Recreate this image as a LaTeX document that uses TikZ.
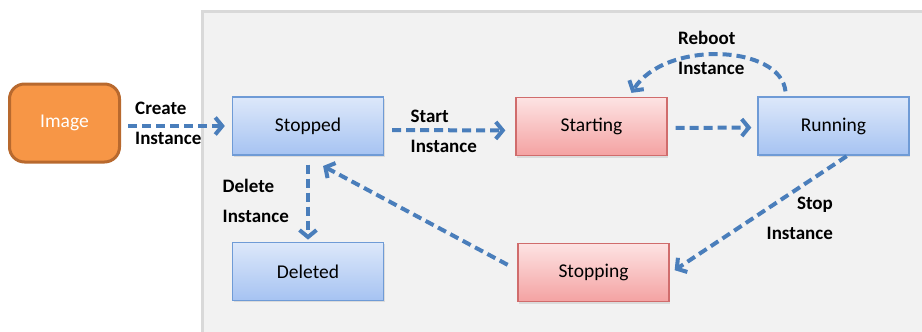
\documentclass[tikz,border=0pt]{standalone}
\usepackage{fontspec}
\setmainfont{Carlito}
\usepackage{xcolor}
\usepackage{tikz}
\usetikzlibrary{positioning}
\usetikzlibrary{arrows.meta,shadows}
\definecolor{arrowblue}{HTML}{4A7EBB}
\definecolor{bluetop}{HTML}{DDE8FA}
\definecolor{bluebot}{HTML}{A6C3F2}
\definecolor{blueline}{HTML}{6F9BD6}
\definecolor{redtop}{HTML}{FDE3E3}
\definecolor{redbot}{HTML}{F4A2A2}
\definecolor{redline}{HTML}{D06C6C}
\definecolor{imgfill}{HTML}{F79646}
\definecolor{imgline}{HTML}{B8692E}
\definecolor{panelfill}{HTML}{F2F2F2}
\definecolor{panelline}{HTML}{D9D9D9}
\tikzset{edge/.style = {-{Straight Barb[length=7pt,width=17pt]}, arrowblue, line width=4pt, dash pattern=on 9pt off 5pt}}

\begin{document}
\begin{tikzpicture}[x=1pt,y=-1pt,font=\fontsize{19.5}{22}\selectfont,
    state/.style={rectangle,line width=1.3pt,minimum width=151pt,minimum height=58pt,
      drop shadow={shadow xshift=1pt,shadow yshift=-2pt,opacity=0.2}},
    blue state/.style={state,draw=blueline,top color=bluetop,bottom color=bluebot},
    red state/.style={state,draw=redline,top color=redtop,bottom color=redbot},
    lbl/.style={font=\fontsize{19}{30}\selectfont\bfseries,inner sep=0pt}]
  \useasboundingbox (0,0) rectangle (922,332);
  \draw[panelline,fill=panelfill,line width=3pt] (202.5,11.5) rectangle (940,350);

  \node[rectangle,rounded corners=15pt,draw=imgline,fill=imgfill,line width=3pt,
    minimum width=110pt,minimum height=78pt,text=white] (image) at (64.5,123) {Image};
  \node[blue state] (stopped) at (308,126) {Stopped};
  \node[red state] (starting) at (591.5,126.5) {Starting};
  \node[blue state] (running) at (833.5,126) {Running};
  \node[blue state] (deleted) [below=86pt of stopped] {Deleted};
  \node[red state] (stopping) at (593.5,272.5) {Stopping};

  % transitions
  \draw[edge,shorten <=7pt,shorten >=7pt] (image.east |- stopped) -- (stopped);
  \draw[edge,shorten <=8pt,shorten >=10pt] ([yshift=-4pt]stopped.east) -- ([yshift=-4pt]starting.west);
  \draw[edge,shorten <=8pt,shorten >=6pt] ([yshift=-1.5pt]starting.east) -- ([yshift=-1.5pt]running.west);
  \draw[edge] ([xshift=-48pt,yshift=5pt]running.north) .. controls +(-5,-47) and +(33,-53) .. ([xshift=40pt,yshift=4pt]starting.north);
  \draw[edge,shorten <=9pt,shorten >=2pt] (stopped.south) -- (stopped.south |- deleted.north);
  \draw[edge,shorten <=11pt,shorten >=22pt] ([yshift=2.5pt]stopping.west) -- ([xshift=-4.3pt]stopped.south);
  \draw[edge,shorten <=1pt,shorten >=6pt] ([xshift=14pt]running.south) -- ([yshift=-1pt]stopping.east);

  % labels (base = last line)
  \node[lbl,align=left,anchor=base west] (createlbl) at (135,144) {Create\\Instance};
  \node[lbl,align=left,anchor=base west] (startlbl) at (410.5,152) {Start\\Instance};
  \node[lbl,align=left,anchor=base west] (rebootlbl) at (678,74) {Reboot\\Instance};
  \node[lbl,align=left,anchor=base west] (deletelbl) at (222.5,222.5) {Delete\\Instance};
  \node[lbl,align=right,anchor=base east] (stoplbl) at (833,239) {Stop\\Instance};
\end{tikzpicture}
\end{document}
